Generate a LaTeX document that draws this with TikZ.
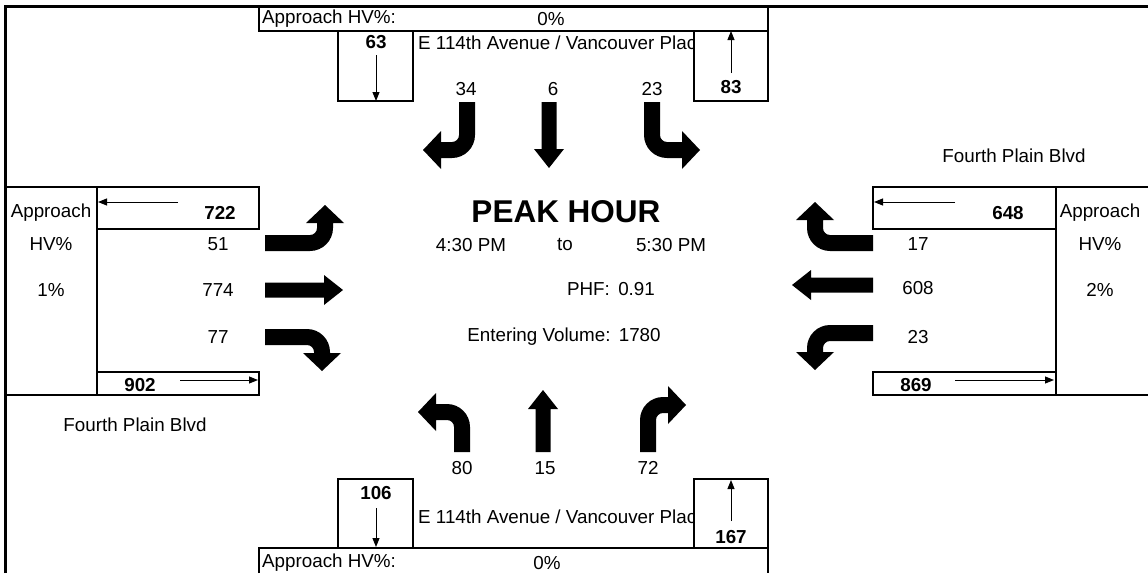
\documentclass[tikz,border=0pt]{standalone}
\usepackage{fontspec}
\setmainfont{Liberation Sans}
\usetikzlibrary{arrows.meta}
\tikzset{
  box/.style={draw, line width=1.2pt},
  lbl/.style={inner sep=0pt, font=\fontsize{18.8}{22}\selectfont},
  blbl/.style={inner sep=0pt, font=\fontsize{18.8}{22}\selectfont\bfseries},
  thinarrow/.style={line width=1pt, -{Triangle[length=9pt,width=7pt]}},
  frameline/.style={line width=3pt, line join=miter},
  arrowfill/.style={fill=black}
}
\newcommand{\turnarrow}[4]{%
  \fill[arrowfill, cm={#1,(#2)}] (-8,0) -- (-8,{-(#3)+15})
    arc[start angle=180,end angle=270,radius=23]
    -- ({(#4)-18},{-(#3)-8}) -- ({(#4)-18},{-(#3)-19}) -- ({#4},{-(#3)})
    -- ({(#4)-18},{-(#3)+19}) -- ({(#4)-18},{-(#3)+8}) -- (15,{-(#3)+8})
    arc[start angle=270,end angle=180,radius=7] -- (8,0) -- cycle;}
\newcommand{\strarrow}[3]{%
  \fill[arrowfill, cm={#1,(#2)}] (-7.5,0) -- (-7.5,{-(#3)+19}) -- (-15,{-(#3)+19})
    -- (0,{-(#3)}) -- (15,{-(#3)+19}) -- (7.5,{-(#3)+19}) -- (7.5,0) -- cycle;}
\begin{document}
\begin{tikzpicture}[x=1pt,y=1pt,yscale=-1]
\useasboundingbox (0,0) rectangle (1148,573);
% outer frame
\draw[frameline] (5,573) -- (5,6) -- (1148,6);

% ---------- North ----------
\draw[box] (259,7) rectangle (768,31);
\node[lbl, anchor=west] (apN) at (262,19) {Approach HV\%:};
\node[lbl] (hvN) at (551,19) {0\%};
\begin{scope}
  \clip (413,31) rectangle (694,101);
  \node[lbl, anchor=west] (stN) at (418,43) {E 114th Avenue / Vancouver Plac};
\end{scope}
\draw[box] (338,31) rectangle (413,101);
\draw[box] (694,31) rectangle (768,101);
\node[blbl] (n63) at (376,42) {63};
\coordinate (a63s) at (376,55); \coordinate (a63e) at (376,101);
\draw[thinarrow] (a63s) -- (a63e);
\node[blbl] (n83) at (731,87) {83};
\coordinate (a83s) at (731,73); \coordinate (a83e) at (731,31);
\draw[thinarrow] (a83s) -- (a83e);
\node[lbl] (sbR) at (466,89) {34};
\node[lbl] (sbT) at (553,89) {6};
\node[lbl] (sbL) at (652,89) {23};
\turnarrow{-1,0,0,-1}{467,102}{48}{44}
\strarrow{1,0,0,-1}{549,102}{66}
\turnarrow{1,0,0,-1}{652,102}{48}{48}

% ---------- Centre ----------
\node[inner sep=0pt, font=\fontsize{31.5}{34}\selectfont\bfseries] (peak) at (566,212) {PEAK HOUR};
\node[lbl] (t1) at (471,245) {4:30 PM};
\node[lbl] (t2) at (565,245) {to};
\node[lbl] (t3) at (671,245) {5:30 PM};
\node[lbl] (phf) at (611,289) {PHF:\ \,0.91};
\node[lbl] (ent) at (564,337) {Entering Volume:\ \,1780};

% ---------- West ----------
\draw[box] (5,187) rectangle (97,395);
\draw[box] (97,187) rectangle (259,229);
\draw[box] (97,372) rectangle (259,395);
\node[lbl] (apW1) at (51,213) {Approach};
\node[lbl] (apW2) at (51,244) {HV\%};
\node[lbl] (apW3) at (51,290) {1\%};
\node[blbl] (n722) at (220,213) {722};
\coordinate (a722s) at (178,202); \coordinate (a722e) at (98,202);
\draw[thinarrow] (a722s) -- (a722e);
\node[blbl] (n902) at (140,385) {902};
\coordinate (a902s) at (180,380); \coordinate (a902e) at (258,380);
\draw[thinarrow] (a902s) -- (a902e);
\node[lbl] (ebL) at (218,244) {51};
\node[lbl] (ebT) at (218,290) {774};
\node[lbl] (ebR) at (218,337) {77};
\node[lbl] (stW) at (135,425) {Fourth Plain Blvd};
\turnarrow{0,-1,-1,0}{265,243}{60}{38}
\strarrow{0,1,-1,0}{265,290}{78}
\turnarrow{0,1,-1,0}{265,337}{57}{34}

% ---------- East ----------
\draw[box] (873,187) rectangle (1056,229);
\draw[box] (873,372) rectangle (1056,395);
\draw[box] (1148,187) -- (1056,187) -- (1056,395) -- (1148,395);
\node[lbl] (apE1) at (1100,213) {Approach};
\node[lbl] (apE2) at (1100,244) {HV\%};
\node[lbl] (apE3) at (1100,290) {2\%};
\node[blbl] (n648) at (1008,213) {648};
\coordinate (a648s) at (955,202); \coordinate (a648e) at (874,202);
\draw[thinarrow] (a648s) -- (a648e);
\node[blbl] (n869) at (916,385) {869};
\coordinate (a869s) at (955,380); \coordinate (a869e) at (1054,380);
\draw[thinarrow] (a869s) -- (a869e);
\node[lbl] (wbR) at (918,244) {17};
\node[lbl] (wbT) at (918,288) {608};
\node[lbl] (wbL) at (918,337) {23};
\node[lbl] (stE) at (1014,156) {Fourth Plain Blvd};
\turnarrow{0,-1,1,0}{873,243}{58}{41}
\strarrow{0,1,1,0}{873,285}{81}
\turnarrow{0,1,1,0}{873,333}{58}{37}

% ---------- South ----------
\turnarrow{-1,0,0,1}{462,452}{40}{44}
\strarrow{1,0,0,1}{543,452}{62}
\turnarrow{1,0,0,1}{648,452}{47}{38}
\node[lbl] (nbL) at (462,468) {80};
\node[lbl] (nbT) at (545,468) {15};
\node[lbl] (nbR) at (648,468) {72};
\begin{scope}
  \clip (413,479) rectangle (694,548);
  \node[lbl, anchor=west] (stS) at (418,517) {E 114th Avenue / Vancouver Plac};
\end{scope}
\draw[box] (338,479) rectangle (413,548);
\draw[box] (694,479) rectangle (768,548);
\node[blbl] (n106) at (376,493) {106};
\coordinate (a106s) at (376,508); \coordinate (a106e) at (376,547);
\draw[thinarrow] (a106s) -- (a106e);
\node[blbl] (n167) at (731,537) {167};
\coordinate (a167s) at (731,521); \coordinate (a167e) at (731,480);
\draw[thinarrow] (a167s) -- (a167e);
\draw[box] (259,573) -- (259,548) -- (768,548) -- (768,573);
\node[lbl, anchor=west] (apS) at (262,563) {Approach HV\%:};
\node[lbl] (hvS) at (547,563) {0\%};
\end{tikzpicture}
\end{document}
